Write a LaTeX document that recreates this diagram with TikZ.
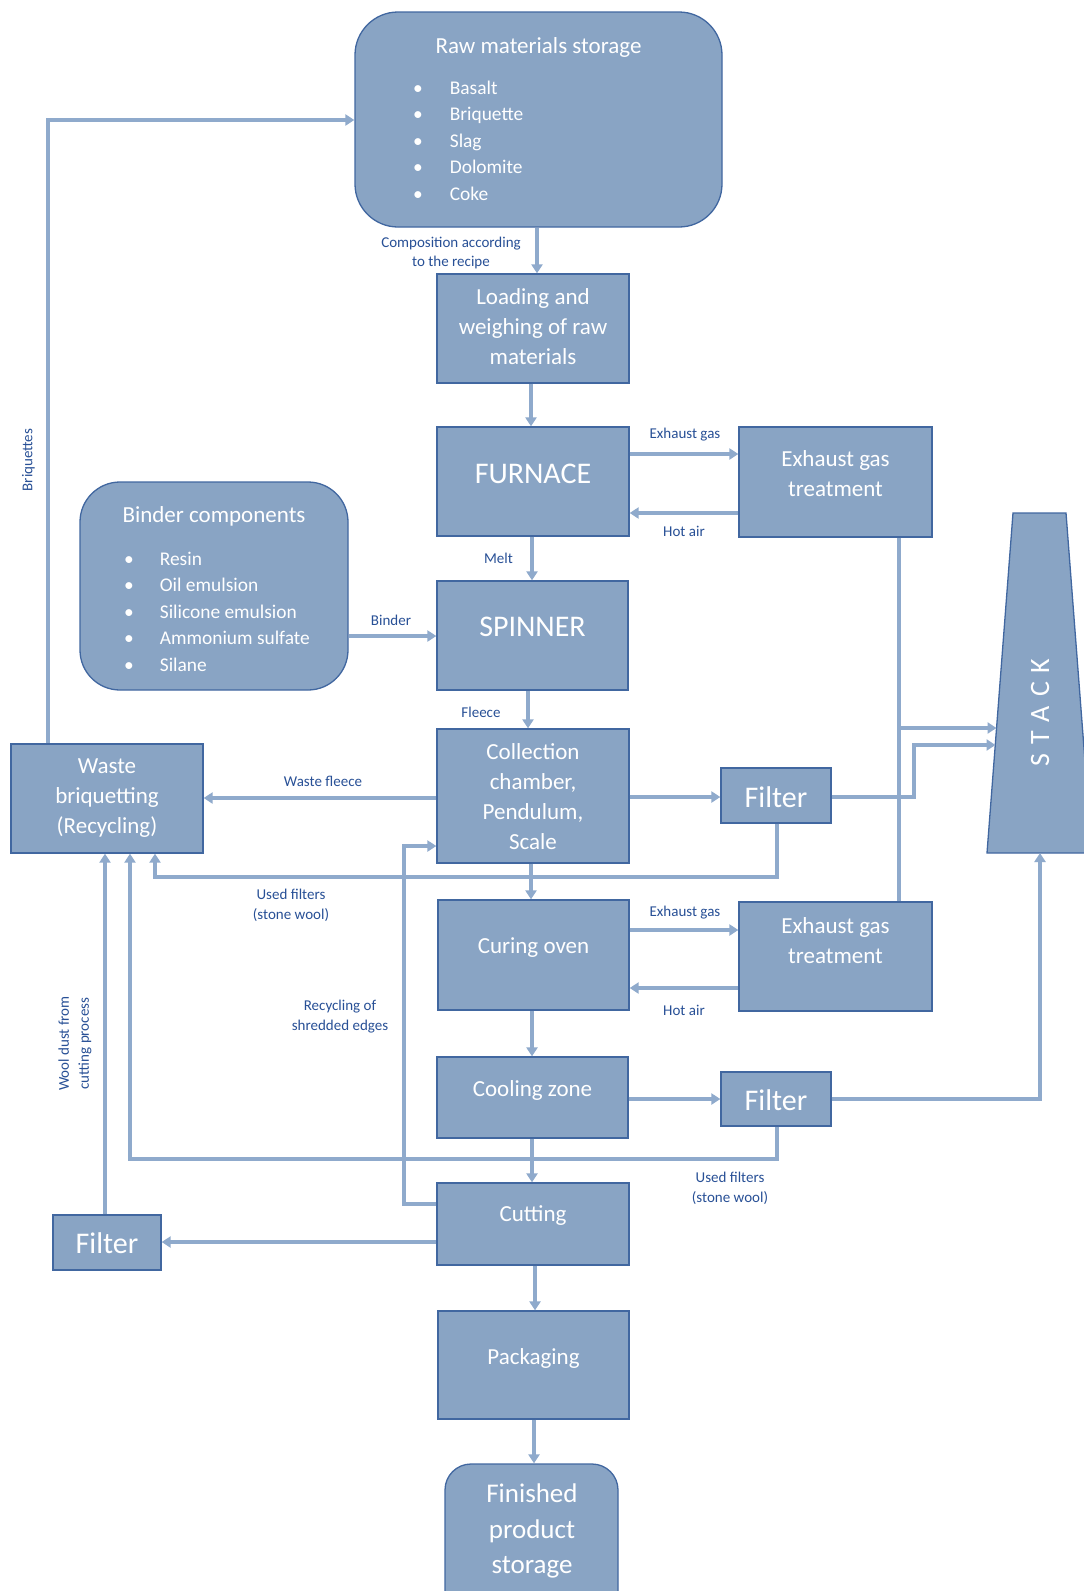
\documentclass[tikz,border=0pt]{standalone}
\usepackage{fontspec}
\setmainfont{Carlito}
\usetikzlibrary{arrows.meta}
\definecolor{boxfill}{RGB}{137,164,196}
\definecolor{boxline}{RGB}{65,103,160}
\definecolor{conncol}{RGB}{143,170,204}
\definecolor{lbltxt}{RGB}{40,80,150}
\begin{document}
\begin{tikzpicture}[x=1pt,y=-1pt,
  pbox/.style={draw=boxline, fill=boxfill, line width=1.3pt, inner sep=0pt},
  btext/.style={text=white, align=center, font=\fontsize{23}{30}\selectfont, inner sep=0pt},
  bigtext/.style={btext, font=\fontsize{30}{36}\selectfont},
  listtext/.style={text=white, font=\fontsize{19.4}{26.4}\selectfont, inner sep=0pt, anchor=west},
  conn/.style={draw=conncol, line width=3.5pt},
  arr/.style={conn, -{Triangle[length=9pt,width=11pt]}},
  lbl/.style={text=lbltxt, font=\fontsize{15}{20}\selectfont, align=center, inner sep=0pt},
]
\fill[white] (0,0) rectangle (1084,1591);
\useasboundingbox (0,0) rectangle (1084,1591);
\clip (0,0) rectangle (1084,1591);

% ---- boxes ----
\node[pbox, rounded corners=43pt, minimum width=367pt, minimum height=215pt] (raw) at (538.5,119.5) {};
\node[pbox, minimum width=192pt, minimum height=109pt] (load) at (533,328.5) {};
\node[pbox, minimum width=192pt, minimum height=109pt] (furnace) at (533,481.5) {};
\node[pbox, minimum width=193pt, minimum height=110pt] (egt1) at (835.5,482) {};
\node[pbox, rounded corners=40pt, minimum width=268pt, minimum height=208pt] (binder) at (214,586) {};
\node[pbox, minimum width=191pt, minimum height=109pt] (spinner) at (532.5,635.5) {};
\node[pbox, minimum width=192pt, minimum height=134pt] (coll) at (533,796) {};
\node[pbox, minimum width=192pt, minimum height=109pt] (wb) at (107,798.5) {};
\node[pbox, minimum width=110pt, minimum height=55pt] (filt1) at (776,795.5) {};
\node[pbox, minimum width=191pt, minimum height=110pt] (curing) at (533.5,955) {};
\node[pbox, minimum width=193pt, minimum height=109pt] (egt2) at (835.5,956.5) {};
\node[pbox, minimum width=191pt, minimum height=81pt] (cooling) at (532.5,1097.5) {};
\node[pbox, minimum width=110pt, minimum height=54pt] (filt2) at (776,1099) {};
\node[pbox, minimum width=192pt, minimum height=82pt] (cutting) at (533,1224) {};
\node[pbox, minimum width=108pt, minimum height=55pt] (filt3) at (107,1242.5) {};
\node[pbox, minimum width=191pt, minimum height=108pt] (pack) at (533.5,1365) {};
\node[pbox, rounded corners=26pt, minimum width=173pt, minimum height=161pt] (fin) at (531.5,1544.5) {};
\path[pbox] (1013,513) -- (1066,513) -- (1092,853) -- (987,853) -- cycle;

% ---- box texts ----
\node[btext, font=\fontsize{23}{28}\selectfont] at (538.5,47) {Raw materials storage};
\node[listtext] at (413,142) {\begin{tabular}{@{}l@{\hspace{27pt}}l@{}}\textbullet & Basalt\\ \textbullet & Briquette\\ \textbullet & Slag\\ \textbullet & Dolomite\\ \textbullet & Coke\end{tabular}};
\node[btext] at (533,327) {Loading and\\weighing of raw\\materials};
\node[bigtext] at (533,474) {FURNACE};
\node[btext] at (835.5,474) {Exhaust gas\\treatment};
\node[btext, font=\fontsize{23}{28}\selectfont] at (214,516) {Binder components};
\node[listtext] at (124,613) {\begin{tabular}{@{}l@{\hspace{26pt}}l@{}}\textbullet & Resin\\ \textbullet & Oil emulsion\\ \textbullet & Silicone emulsion\\ \textbullet & Ammonium sulfate\\ \textbullet & Silane\end{tabular}};
\node[bigtext] at (532.5,627) {SPINNER};
\node[btext] at (533,796.5) {Collection\\chamber,\\Pendulum,\\Scale};
\node[btext] at (107,798.5) {Waste\\briquetting\\(Recycling)};
\node[bigtext] at (776,797) {Filter};
\node[btext] at (533.5,948) {Curing oven};
\node[btext] at (835.5,941) {Exhaust gas\\treatment};
\node[btext] at (532.5,1090) {Cooling zone};
\node[bigtext] at (776,1100) {Filter};
\node[btext] at (533,1216) {Cutting};
\node[bigtext] at (107,1243.5) {Filter};
\node[btext] at (533.5,1358) {Packaging};
\node[btext, font=\fontsize{27}{35.5}\selectfont] at (532,1531) {Finished\\product\\storage};
\node[text=white, font=\fontsize{28}{30}\selectfont, rotate=90, inner sep=0pt] (stack) at (1040,712.5) {S\hspace{9pt}T\hspace{9pt}A\hspace{9pt}C\hspace{9pt}K};

% ---- connectors ----
\coordinate (st1) at (996.5,728);
\coordinate (st2) at (995.5,745);
\coordinate (st3) at (1040,853);

\draw[arr] (raw.south -| 537,0) -- (load.north -| 537,0);
\draw[arr] (load.south -| 531,0) -- (furnace.north -| 531,0);
\draw[arr] (furnace.south -| 532,0) -- (spinner.north -| 532,0);
\draw[arr] (spinner.south -| 528,0) -- (coll.north -| 528,0);
\draw[arr] (coll.south -| 531,0) -- (curing.north -| 531,0);
\draw[arr] (curing.south -| 532,0) -- (cooling.north -| 532,0);
\draw[arr] (cooling.south -| 532,0) -- (cutting.north -| 532,0);
\draw[arr] (cutting.south -| 535,0) -- (pack.north -| 535,0);
\draw[arr] (pack.south -| 534,0) -- (fin.north -| 534,0);

\draw[arr] (furnace.east |- 0,454) -- (egt1.west |- 0,454);
\draw[arr] (egt1.west |- 0,513) -- (furnace.east |- 0,513);
\draw[arr] (curing.east |- 0,930) -- (egt2.west |- 0,930);
\draw[arr] (egt2.west |- 0,988) -- (curing.east |- 0,988);
\draw[conn] (egt1.south -| 899,0) -- (egt2.north -| 899,0);
\draw[arr] (899,728) -- (st1);

\draw[arr] (coll.east |- 0,797) -- (filt1.west |- 0,797);
\draw[arr] (filt1.east |- 0,797) -- (914,797) -- (914,745) -- (st2);
\draw[arr] (filt1.south -| 777,0) -- (777,877) -- (155,877) -- (wb.south -| 155,0);
\draw[arr] (coll.west |- 0,798) -- (wb.east |- 0,798);
\draw[arr] (binder.east |- 0,636) -- (spinner.west |- 0,636);
\draw[arr] (wb.north -| 48,0) -- (48,120) -- (raw.west |- 0,120);
\draw[arr] (cutting.west |- 0,1204) -- (404,1204) -- (404,846) -- (coll.west |- 0,846);
\draw[arr] (cutting.west |- 0,1242) -- (filt3.east |- 0,1242);
\draw[arr] (filt3.north -| 105,0) -- (wb.south -| 105,0);
\draw[arr] (cooling.east |- 0,1099) -- (filt2.west |- 0,1099);
\draw[arr] (filt2.east |- 0,1099) -- (1040,1099) -- (st3);
\draw[arr] (filt2.south -| 777,0) -- (777,1159) -- (130,1159) -- (wb.south -| 130,0);

% ---- labels ----
\node[lbl, font=\fontsize{15}{19}\selectfont] at (451,252.5) {Composition according\\to the recipe};
\node[lbl] at (685,434.5) {Exhaust gas};
\node[lbl] at (684,531) {Hot air};
\node[lbl] at (498.5,558) {Melt};
\node[lbl] at (391,620) {Binder};
\node[lbl] at (481,712.5) {Fleece};
\node[lbl] at (323,781.5) {Waste fleece};
\node[lbl] at (291,905) {Used filters\\(stone wool)};
\node[lbl] at (685,912.5) {Exhaust gas};
\node[lbl] at (684,1010) {Hot air};
\node[lbl] at (340,1017) {Recycling of\\shredded edges};
\node[lbl] at (730,1188) {Used filters\\(stone wool)};
\node[lbl, rotate=90] at (75,1043.5) {Wool dust from\\cutting process};
\node[lbl, rotate=90] at (28.5,460) {Briquettes};
\end{tikzpicture}
\end{document}
